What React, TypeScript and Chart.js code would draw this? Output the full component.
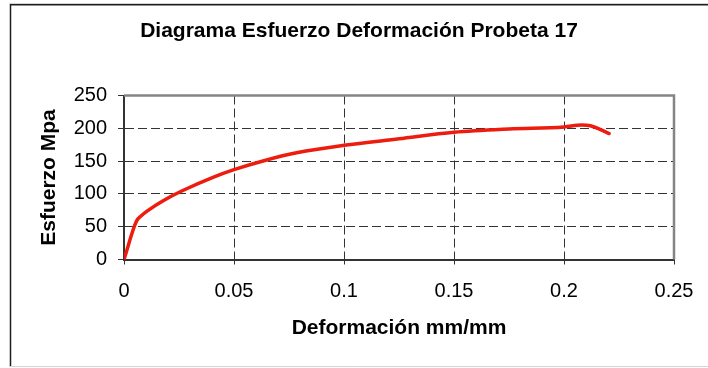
import React, { useEffect, useRef } from 'react';
import { Chart, registerables } from 'chart.js';

Chart.register(...registerables);

// ---- data ----
const strain = [0, 0.0056, 0.008, 0.011, 0.018, 0.026, 0.041, 0.05, 0.064, 0.079, 0.1, 0.125, 0.15, 0.175, 0.2, 0.208, 0.212, 0.2205];
const stress = [0, 58, 67, 75, 90, 104, 126, 137, 151, 163, 174, 184, 194, 199, 202, 205, 204, 192];
const xTickLabels = ['0', '0.05', '0.1', '0.15', '0.2', '0.25'];
const yTickLabels = ['0', '50', '100', '150', '200', '250'];
const chartTitle = 'Diagrama Esfuerzo Deformación Probeta 17';
const xTitle = 'Deformación mm/mm';
const yTitle = 'Esfuerzo Mpa';

const FONT = '"Liberation Sans", Arial, Helvetica, sans-serif';

const framePlugin = {
  id: 'frame',
  beforeDraw(chart: any) {
    const { ctx, width, height } = chart;
    ctx.save();
    ctx.fillStyle = '#ffffff';
    ctx.fillRect(0, 0, width, height);
    ctx.strokeStyle = '#d4d4d4';
    ctx.lineWidth = 1;
    ctx.beginPath();
    ctx.moveTo(9, 3.5);
    ctx.lineTo(width, 3.5);
    ctx.stroke();
    ctx.beginPath();
    ctx.moveTo(9, 366.5);
    ctx.lineTo(width, 366.5);
    ctx.stroke();
    ctx.strokeStyle = '#1e1e1e';
    ctx.lineWidth = 1.5;
    ctx.beginPath();
    ctx.moveTo(width, 4.75);
    ctx.lineTo(10.5, 4.75);
    ctx.lineTo(10.5, 366);
    ctx.stroke();
    ctx.restore();
  },
  beforeDatasetsDraw(chart: any) {
    const { ctx, chartArea } = chart;
    const { left, right, top, bottom } = chartArea;
    ctx.save();
    ctx.strokeStyle = '#858585';
    ctx.lineWidth = 2.5;
    ctx.beginPath();
    ctx.moveTo(left, top);
    ctx.lineTo(right, top);
    ctx.lineTo(right, bottom);
    ctx.stroke();
    ctx.restore();
  },
};

export default function App() {
  const canvasRef = useRef<HTMLCanvasElement | null>(null);

  useEffect(() => {
    document.body.style.margin = '0';
    const canvas = canvasRef.current;
    if (!canvas) return;
    const lastX = xTickLabels.length - 1;
    const lastY = yTickLabels.length - 1;
    const chart = new Chart(canvas, {
      type: 'scatter',
      data: {
        datasets: [
          {
            data: strain.map((x, i) => ({ x, y: stress[i] })),
            showLine: true,
            borderColor: 'rgb(238,28,14)',
            backgroundColor: 'rgb(238,28,14)',
            borderWidth: 3.5,
            pointRadius: 0,
            cubicInterpolationMode: 'monotone',
            borderCapStyle: 'round',
            borderJoinStyle: 'round',
          },
        ],
      },
      plugins: [framePlugin],
      options: {
        responsive: false,
        animation: false,
        devicePixelRatio: 1,
        layout: { padding: { left: 10, right: 0, top: 0, bottom: 0 } },
        plugins: {
          legend: { display: false },
          tooltip: { enabled: false },
          title: {
            display: true,
            text: chartTitle,
            color: '#000',
            font: { family: FONT, size: 21, weight: 'bold' },
            padding: { top: 18.3, bottom: 52 },
          },
        },
        scales: {
          x: {
            type: 'linear',
            min: 0,
            max: 0.25,
            afterFit: (scale: any) => {
              scale.height = 108.5;
              scale.paddingRight = 34;
            },
            ticks: {
              stepSize: 0.05,
              color: '#000',
              font: { family: FONT, size: 20 },
              padding: 15,
              maxRotation: 0,
              autoSkip: false,
              callback: (_v: any, i: number) => xTickLabels[i],
            },
            grid: {
              color: (c: any) => (c.index === 0 || c.index === lastX ? 'rgba(0,0,0,0)' : '#333333'),
              lineWidth: 1,
              tickColor: '#333333',
              tickLength: 5,
              tickWidth: 1,
            },
            border: { display: true, color: '#333333', width: 2, dash: [9, 4] },
            title: {
              display: true,
              text: xTitle,
              color: '#000',
              font: { family: FONT, size: 21, weight: 'bold' },
              padding: { top: 0, bottom: 26.7 },
            },
          },
          y: {
            type: 'linear',
            min: 0,
            max: 250,
            afterFit: (scale: any) => {
              scale.width = 114;
            },
            ticks: {
              stepSize: 50,
              color: '#000',
              font: { family: FONT, size: 20 },
              padding: 11,
              callback: (_v: any, i: number) => yTickLabels[i],
            },
            grid: {
              color: (c: any) => (c.index === 0 || c.index === lastY ? 'rgba(0,0,0,0)' : '#333333'),
              lineWidth: 1,
              tickColor: '#333333',
              tickLength: 6,
              tickWidth: 1,
            },
            border: { display: true, color: '#333333', width: 2, dash: [9, 4] },
            title: {
              display: true,
              text: yTitle,
              color: '#000',
              font: { family: FONT, size: 21, weight: 'bold' },
              padding: { top: 27.1, bottom: 0 },
            },
          },
        },
      },
    } as any);
    return () => chart.destroy();
  }, []);

  return (
    <div style={{ width: 708, height: 368 }}>
      <canvas ref={canvasRef} width={708} height={368} style={{ display: 'block' }} />
    </div>
  );
}
